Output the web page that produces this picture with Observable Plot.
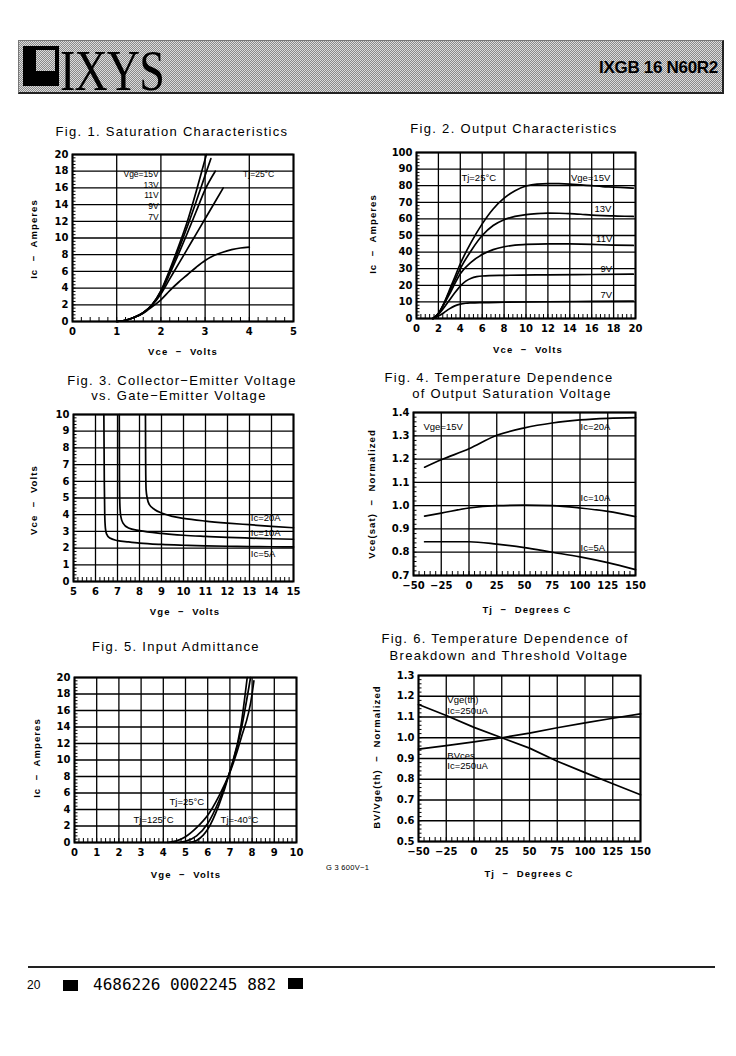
<!DOCTYPE html>
<html><head><meta charset="utf-8">
<script src="https://cdn.jsdelivr.net/npm/d3@7"></script>
<script src="https://cdn.jsdelivr.net/npm/@observablehq/plot@0.6"></script>
<style>
body{margin:0;background:#fff;}
#page{position:relative;width:736px;height:1056px;overflow:hidden;background:#fff;font-family:"Liberation Sans",Arial,sans-serif;color:#000;}
.abs{position:absolute;white-space:pre;line-height:1;}
.title{font-size:13px;letter-spacing:1.3px;transform:translate(-50%,-50%);}
.axl{font-family:"Liberation Sans",Arial,sans-serif;font-size:9.5px;font-weight:bold;letter-spacing:1.1px;transform:translate(-50%,-50%);}
.rot{transform:translate(-50%,-50%) rotate(-90deg);}
.chart{position:absolute;}
.chart svg{overflow:visible;}
</style></head><body><div id="page"></div>
<script>
// ---------------- Fig. 1  Saturation Characteristics (Ic vs Vce) ----------------
const fig1XTicks = [0, 1, 2, 3, 4, 5];
const fig1YTicks = [0, 2, 4, 6, 8, 10, 12, 14, 16, 18, 20];
const fig1Names = ["15V", "13V", "11V", "9V", "7V"];
const fig1Vge15 = [[1.0,0],[1.2,0.15],[1.4,0.5],[1.6,1.05],[1.8,2.0],[2.0,3.7],[2.2,6.2],[2.4,9.0],[2.6,12.0],[2.8,15.6],[3.03,20]];
const fig1Vge13 = [[1.0,0],[1.2,0.15],[1.4,0.5],[1.6,1.05],[1.8,2.0],[2.0,3.6],[2.2,6.0],[2.4,8.6],[2.6,11.4],[2.8,14.4],[3.0,17.5],[3.13,19.5]];
const fig1Vge11 = [[1.0,0],[1.2,0.15],[1.4,0.5],[1.6,1.05],[1.8,2.0],[2.0,3.5],[2.2,5.7],[2.4,8.1],[2.6,10.6],[2.8,13.2],[3.0,15.8],[3.23,18]];
const fig1Vge9  = [[1.0,0],[1.2,0.15],[1.4,0.5],[1.6,1.05],[1.8,1.95],[2.0,3.3],[2.2,5.1],[2.4,6.9],[2.6,8.7],[2.8,10.5],[3.0,12.3],[3.2,14.1],[3.41,16]];
const fig1Vge7  = [[1.0,0],[1.2,0.15],[1.4,0.5],[1.6,1.0],[1.8,1.75],[2.0,2.6],[2.2,3.7],[2.4,4.7],[2.6,5.6],[2.8,6.5],[3.0,7.3],[3.2,7.9],[3.4,8.3],[3.6,8.6],[3.8,8.8],[4.0,8.9]];
const fig1Text = ["Vge=15V", "13V", "11V", "9V", "7V", "Tj=25°C"];
const fig1TextX = [1.95, 1.95, 1.95, 1.95, 1.95, 3.86];
const fig1TextY = [17.6, 16.35, 15.1, 13.85, 12.5, 17.6];
const fig1TextAnchor = ["end", "end", "end", "end", "end", "start"];

// ---------------- Fig. 2  Output Characteristics ----------------
const fig2XTicks = [0, 2, 4, 6, 8, 10, 12, 14, 16, 18, 20];
const fig2YTicks = [0, 10, 20, 30, 40, 50, 60, 70, 80, 90, 100];
const fig2Names = ["15V", "13V", "11V", "9V", "7V"];
const fig2Vge15 = [[1.5,0],[2,3],[2.5,9],[3,17],[3.5,25],[4,33],[5,46],[6,57],[7,66],[8,72.5],[9,77],[10,79.8],[11,81],[12,81.2],[13,81.2],[14,81],[15,80.5],[16,80],[17,79.5],[18,79.2],[19,78.8],[19.8,78.5]];
const fig2Vge13 = [[1.5,0],[2,3],[2.5,9],[3,16],[3.5,23],[4,30],[5,41],[6,50],[7,56],[8,59.5],[9,61.5],[10,62.6],[11,63.2],[12,63.5],[13,63.4],[14,63.2],[15,62.8],[16,62.3],[17,62],[18,61.8],[19,61.6],[19.8,61.5]];
const fig2Vge11 = [[1.5,0],[2,3],[2.5,8.5],[3,14.5],[3.5,21],[4,27],[5,34],[6,38.5],[7,41.5],[8,43.2],[9,44.2],[10,44.6],[12,45],[14,44.9],[16,44.6],[18,44.2],[19.8,44]];
const fig2Vge9  = [[1.5,0],[2,2.5],[2.5,6.5],[3,11],[3.5,15.5],[4,19.5],[4.5,22.5],[5,24.3],[5.5,25.2],[6,25.6],[8,26],[12,26.3],[16,26.5],[19.8,26.7]];
const fig2Vge7  = [[1.5,0],[2,1.5],[2.5,3.5],[3,5.8],[3.5,7.6],[4,8.7],[4.5,9.2],[5,9.4],[6,9.6],[8,9.8],[12,10.1],[16,10.3],[19.8,10.5]];
const fig2Text = ["Tj=25°C", "Vge=15V", "13V", "11V", "9V", "7V"];
const fig2TextX = [4.1, 14.1, 16.25, 16.4, 16.8, 16.8];
const fig2TextY = [84.5, 84.5, 66, 48, 30, 14];

// ---------------- Fig. 3  Vce vs Vge ----------------
const fig3XTicks = [5, 6, 7, 8, 9, 10, 11, 12, 13, 14, 15];
const fig3YTicks = [0, 1, 2, 3, 4, 5, 6, 7, 8, 9, 10];
const fig3Names = ["20A", "10A", "5A"];
const fig3Ic20 = [[8.27,10],[8.28,7],[8.3,5.5],[8.35,5.0],[8.45,4.6],[8.7,4.3],[9,4.1],[9.5,3.9],[10,3.78],[11,3.62],[12,3.5],[13,3.4],[14,3.3],[15,3.22]];
const fig3Ic10 = [[7.08,10],[7.09,6],[7.11,4.5],[7.15,3.9],[7.25,3.5],[7.5,3.2],[8,3.05],[9,2.88],[10,2.77],[11,2.7],[12,2.64],[13,2.6],[14,2.56],[15,2.53]];
const fig3Ic5  = [[6.38,10],[6.40,6],[6.42,4],[6.45,3.2],[6.5,2.85],[6.65,2.6],[7.0,2.45],[7.5,2.37],[8,2.3],[9,2.22],[10,2.17],[11,2.13],[12,2.11],[13,2.09],[14,2.08],[15,2.07]];
const fig3Text = ["Ic=20A", "Ic=10A", "Ic=5A"];
const fig3TextX = [13.06, 13.06, 13.06];
const fig3TextY = [3.81, 2.89, 1.62];

// ---------------- Fig. 4  Temperature dependence of Vce(sat) ----------------
const fig4XTicks = [-50, -25, 0, 25, 50, 75, 100, 125, 150];
const fig4YTicks = [0.7, 0.8, 0.9, 1.0, 1.1, 1.2, 1.3, 1.4];
const fig4Names = ["20A", "10A", "5A"];
const fig4Ic20 = [[-40,1.165],[-25,1.197],[0,1.244],[25,1.302],[50,1.334],[75,1.355],[100,1.368],[125,1.375],[150,1.378]];
const fig4Ic10 = [[-40,0.955],[-25,0.968],[0,0.99],[25,1.0],[50,1.002],[75,1.0],[100,0.99],[125,0.975],[150,0.953]];
const fig4Ic5  = [[-40,0.845],[0,0.845],[25,0.835],[50,0.82],[75,0.80],[100,0.78],[125,0.755],[150,0.725]];
const fig4Text = ["Vge=15V", "Ic=20A", "Ic=10A", "Ic=5A"];
const fig4TextX = [-41, 100.5, 100.5, 100.5];
const fig4TextY = [1.34, 1.34, 1.032, 0.82];

// ---------------- Fig. 5  Input Admittance ----------------
const fig5XTicks = [0, 1, 2, 3, 4, 5, 6, 7, 8, 9, 10];
const fig5YTicks = [0, 2, 4, 6, 8, 10, 12, 14, 16, 18, 20];
const fig5Names = ["125", "25", "-40"];
const fig5Tj125 = [[4.2,0],[4.6,0.2],[5.0,0.7],[5.5,1.8],[6.0,3.3],[6.5,5.6],[7.0,8.5],[7.5,12.6],[8.0,18.0],[8.08,19.6]];
const fig5Tj25  = [[4.7,0],[5.0,0.15],[5.5,0.8],[6.0,2.3],[6.5,5.0],[7.0,8.6],[7.5,13.6],[7.93,20]];
const fig5TjM40 = [[5.2,0],[5.5,0.25],[5.8,0.9],[6.0,1.6],[6.5,4.5],[7.0,8.6],[7.5,14.2],[7.78,20]];
const fig5Text = ["Tj=25°C", "Tj=125°C", "Tj=-40°C"];
const fig5TextX = [4.28, 2.66, 6.58];
const fig5TextY = [4.9, 2.75, 2.75];

// ---------------- Fig. 6  Breakdown and threshold voltage ----------------
const fig6XTicks = [-50, -25, 0, 25, 50, 75, 100, 125, 150];
const fig6YTicks = [0.5, 0.6, 0.7, 0.8, 0.9, 1.0, 1.1, 1.2, 1.3];
const fig6Names = ["Vge(th)", "BVces"];
const fig6VgeTh = [[-50,1.16],[-25,1.107],[0,1.05],[25,1.0],[50,0.95],[75,0.887],[100,0.832],[125,0.778],[150,0.725]];
const fig6BVces = [[-50,0.945],[-25,0.962],[0,0.98],[25,1.0],[50,1.022],[75,1.048],[100,1.072],[125,1.094],[150,1.115]];
const fig6Text = ["Vge(th)", "Ic=250uA", "BVces", "Ic=250uA"];
const fig6TextX = [-24, -24, -24, -24];
const fig6TextY = [1.18, 1.13, 0.913, 0.865];

// ---------------- helpers ----------------
const page = document.getElementById("page");
function html(text, cls, x, y, extra) {
  const d = document.createElement("div");
  d.className = "abs " + cls;
  d.textContent = text;
  d.style.left = x + "px";
  d.style.top = y + "px";
  if (extra) Object.assign(d.style, extra);
  page.appendChild(d);
  return d;
}
function box(x, y, w, h, style) {
  const d = document.createElement("div");
  Object.assign(d.style, {position: "absolute", left: x + "px", top: y + "px", width: w + "px", height: h + "px"}, style);
  page.appendChild(d);
  return d;
}
function rowsOf(names, curves) {
  return names.flatMap((s, i) => curves[i].map(([x, y]) => ({s, x, y})));
}
function labelsOf(texts, xs, ys, anchors) {
  return texts.map((t, i) => ({t, x: xs[i], y: ys[i], a: anchors ? anchors[i] : "start"}));
}
function chart(cfg) {
  const [fx0, fx1, fy0, fy1] = cfg.frame;
  const ML = 40, MR = 14, MT = 10, MB = 24;
  const fw = fx1 - fx0, fh = fy1 - fy0;
  const xd = [cfg.xTicks[0], cfg.xTicks[cfg.xTicks.length - 1]];
  const yd = [cfg.yTicks[0], cfg.yTicks[cfg.yTicks.length - 1]];
  const tLenY = (yd[1] - yd[0]) * 4 / fh;
  const tLenX = (xd[1] - xd[0]) * 3.5 / fw;
  const xMinor = d3.range(xd[0], xd[1] + 1e-9, cfg.xMinorStep);
  const yMinor = d3.range(yd[0], yd[1] + 1e-9, cfg.yMinorStep);
  const labels = cfg.labels;
  const textOpts = {x: "x", y: "y", text: "t", fontFamily: "Liberation Sans", fontWeight: "normal", fontSize: cfg.labelSize || 9.5, fill: "#000"};
  const svg = Plot.plot({
    width: fw + ML + MR, height: fh + MT + MB,
    marginLeft: ML, marginRight: MR, marginTop: MT, marginBottom: MB,
    style: {fontFamily: "DejaVu Sans", fontSize: "10px", fontWeight: "bold", color: "#000", background: "transparent"},
    x: {domain: xd},
    y: {domain: yd},
    marks: [
      Plot.ruleX(cfg.xTicks, {stroke: "#000", strokeWidth: 1.3}),
      Plot.ruleY(cfg.yTicks, {stroke: "#000", strokeWidth: 1.3}),
      Plot.ruleX(xMinor, {x: d => d, y1: () => yd[0], y2: () => yd[0] + tLenY, stroke: "#000", strokeWidth: 1}),
      Plot.ruleY(yMinor, {y: d => d, x1: () => xd[0], x2: () => xd[0] + tLenX, stroke: "#000", strokeWidth: 1}),
      Plot.line(cfg.rows, {x: "x", y: "y", z: "s", stroke: "#000", strokeWidth: 1.7, curve: cfg.curve || "monotone-x"}),
      Plot.text(labels.filter(d => d.a === "start"), {...textOpts, textAnchor: "start"}),
      Plot.text(labels.filter(d => d.a === "end"), {...textOpts, textAnchor: "end"}),
      Plot.frame({stroke: "#000", strokeWidth: 2}),
      Plot.axisX(cfg.xTicks, {anchor: "bottom", tickSize: 0, tickPadding: 6, label: null, tickFormat: cfg.xFormat}),
      Plot.axisY(cfg.yTicks, {anchor: "left", tickSize: 0, tickPadding: 4, label: null, tickFormat: cfg.yFormat})
    ]
  });
  const wrap = document.createElement("div");
  wrap.className = "chart";
  wrap.style.left = (fx0 - ML) + "px";
  wrap.style.top = (fy0 - MT) + "px";
  wrap.appendChild(svg);
  page.appendChild(wrap);
}

// ---------------- header ----------------
const dither = "repeating-conic-gradient(#8a8a8a 0 25%, #dcdcdc 0 50%) 0 0/2px 2px";
box(18, 40, 703, 51, {background: dither, borderTop: "1px solid #777", borderLeft: "1px solid #777", borderRight: "2px solid #222", borderBottom: "2px solid #222"});
box(23, 46, 36, 40, {background: "#000"});
box(36, 50, 19, 21, {background: dither});
html("IXYS", "", 60, 43, {fontFamily: "'Liberation Serif',serif", fontSize: "56px", transform: "scaleX(0.82)", transformOrigin: "0 0", letterSpacing: "-1px"});
html("IXGB 16 N60R2", "", 718, 67, {fontFamily: "'Liberation Sans Narrow','Liberation Sans',sans-serif", fontWeight: "bold", fontSize: "17px", transform: "translate(-100%,-50%)", letterSpacing: "-0.3px"});

// ---------------- titles ----------------
html("Fig. 1. Saturation Characteristics", "title", 172, 131);
html("Fig. 2. Output Characteristics", "title", 514, 128);
html("Fig. 3. Collector−Emitter Voltage", "title", 182, 380);
html("vs. Gate−Emitter Voltage", "title", 179, 395);
html("Fig. 4. Temperature Dependence", "title", 499, 377);
html("of Output Saturation Voltage", "title", 512, 393);
html("Fig. 5. Input Admittance", "title", 176, 646);
html("Fig. 6. Temperature Dependence of", "title", 505, 638);
html("Breakdown and Threshold Voltage", "title", 509, 655);

// ---------------- axis labels ----------------
html("Ic  −  Amperes", "axl rot", 34, 239);
html("Vce  −  Volts", "axl", 183, 352);
html("Ic  −  Amperes", "axl rot", 373, 234);
html("Vce  −  Volts", "axl", 528, 350);
html("Vce  −  Volts", "axl rot", 34, 500);
html("Vge  −  Volts", "axl", 185, 612);
html("Vce(sat)  −  Normalized", "axl rot", 372, 494);
html("Tj  −  Degrees C", "axl", 527, 610);
html("Ic  −  Amperes", "axl rot", 37, 758);
html("Vge  −  Volts", "axl", 186, 875);
html("BV/Vge(th)  −  Normalized", "axl rot", 377, 757);
html("Tj  −  Degrees C", "axl", 529, 874);

// ---------------- charts ----------------
const f1 = d3.format(".1f");
chart({frame: [72, 293, 154, 321], xTicks: fig1XTicks, yTicks: fig1YTicks, xMinorStep: 0.2, yMinorStep: 0.4,
  rows: rowsOf(fig1Names, [fig1Vge15, fig1Vge13, fig1Vge11, fig1Vge9, fig1Vge7]),
  labels: labelsOf(fig1Text, fig1TextX, fig1TextY, fig1TextAnchor), labelSize: 8.5});
chart({frame: [416, 635, 152, 318], xTicks: fig2XTicks, yTicks: fig2YTicks, xMinorStep: 0.4, yMinorStep: 2,
  rows: rowsOf(fig2Names, [fig2Vge15, fig2Vge13, fig2Vge11, fig2Vge9, fig2Vge7]),
  labels: labelsOf(fig2Text, fig2TextX, fig2TextY)});
chart({frame: [73, 293, 414, 581], xTicks: fig3XTicks, yTicks: fig3YTicks, xMinorStep: 0.2, yMinorStep: 0.2,
  rows: rowsOf(fig3Names, [fig3Ic20, fig3Ic10, fig3Ic5]),
  labels: labelsOf(fig3Text, fig3TextX, fig3TextY)});
chart({frame: [413, 635, 412, 575], xTicks: fig4XTicks, yTicks: fig4YTicks, xMinorStep: 5, yMinorStep: 0.02, yFormat: f1,
  rows: rowsOf(fig4Names, [fig4Ic20, fig4Ic10, fig4Ic5]),
  labels: labelsOf(fig4Text, fig4TextX, fig4TextY)});
chart({frame: [74, 296, 677, 842], xTicks: fig5XTicks, yTicks: fig5YTicks, xMinorStep: 0.2, yMinorStep: 0.4,
  rows: rowsOf(fig5Names, [fig5Tj125, fig5Tj25, fig5TjM40]),
  labels: labelsOf(fig5Text, fig5TextX, fig5TextY)});
chart({frame: [418, 640, 675, 841], xTicks: fig6XTicks, yTicks: fig6YTicks, xMinorStep: 5, yMinorStep: 0.02, yFormat: f1,
  rows: rowsOf(fig6Names, [fig6VgeTh, fig6BVces]),
  labels: labelsOf(fig6Text, fig6TextX, fig6TextY), curve: "linear"});

// ---------------- footer ----------------
html("G 3 600V−1", "", 326, 864, {fontSize: "7.5px", letterSpacing: "0.3px"});
box(28, 966, 687, 1.5, {background: "#222"});
html("20", "", 27, 979, {fontSize: "12px"});
box(63, 980, 15, 11, {background: "#000"});
box(288, 978, 15, 11, {background: "#000"});
html("4686226 0002245 882", "", 93, 977, {fontFamily: "'DejaVu Sans Mono',monospace", fontSize: "16px", letterSpacing: "0px"});
</script>
</body></html>
